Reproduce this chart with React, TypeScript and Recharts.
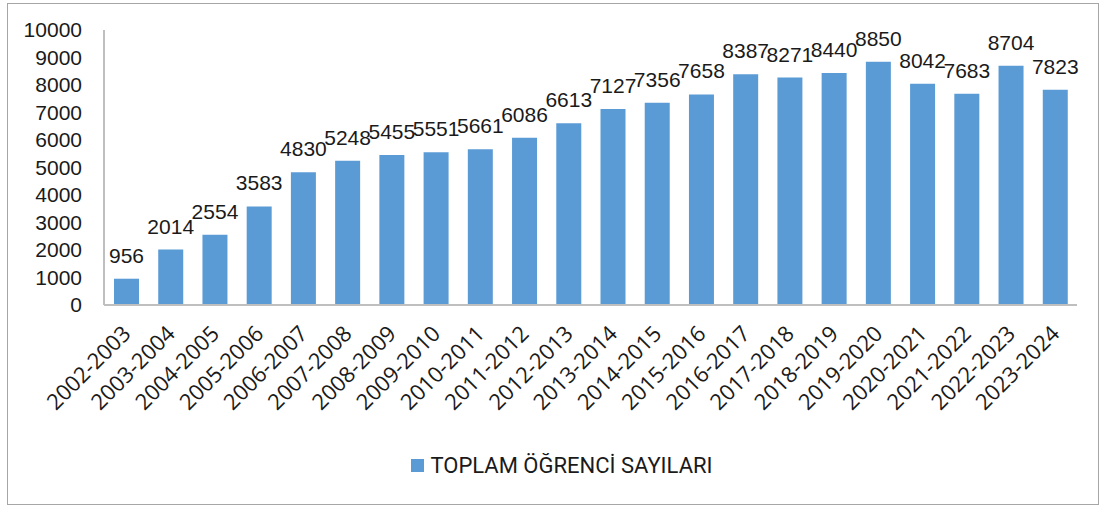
import React from "react";
import { BarChart, Bar, XAxis, YAxis, LabelList } from "recharts";

const donemler = [
  "2002-2003", "2003-2004", "2004-2005", "2005-2006", "2006-2007", "2007-2008",
  "2008-2009", "2009-2010", "2010-2011", "2011-2012", "2012-2013", "2013-2014",
  "2014-2015", "2015-2016", "2016-2017", "2017-2018", "2018-2019", "2019-2020",
  "2020-2021", "2021-2022", "2022-2023", "2023-2024",
];

const ogrenciSayilari = [
  956, 2014, 2554, 3583, 4830, 5248, 5455, 5551, 5661, 6086, 6613, 7127,
  7356, 7658, 8387, 8271, 8440, 8850, 8042, 7683, 8704, 7823,
];

const yTicks = [0, 1000, 2000, 3000, 4000, 5000, 6000, 7000, 8000, 9000, 10000];

const seriesName = "TOPLAM ÖĞRENCİ SAYILARI";

const chartData = donemler.map((d, i) => ({ donem: d, toplam: ogrenciSayilari[i] }));

const tickFont = "'Liberation Sans', Arial, sans-serif";

function XTick(props: any) {
  const { x, y, payload } = props;
  return (
    <g transform={`translate(${x + 6},${y + 22})`}>
      <text
        x={0}
        y={0}
        textAnchor="end"
        transform="rotate(-45)"
        fontSize={22}
        fontFamily="'Open Sans', sans-serif"
        fill="#1a1a1a"
      >
        {payload.value}
      </text>
    </g>
  );
}

export default function App() {
  return (
    <div style={{ position: "absolute", left: 0, top: 0, width: 1104, height: 507, background: "#fff" }}>
      <div
        style={{
          position: "absolute",
          left: 7,
          top: 3,
          width: 1090,
          height: 500,
          border: "1.5px solid #a6a6a6",
        }}
      />
      <div style={{ position: "absolute", left: 0, top: 0 }}>
        <BarChart
          width={1104}
          height={507}
          data={chartData}
          margin={{ top: 30, right: 27, bottom: 0, left: 0 }}
        >
          <XAxis
            dataKey="donem"
            height={202}
            interval={0}
            tickLine={false}
            axisLine={{ stroke: "#bfbfbf", strokeWidth: 2 }}
            tick={<XTick />}
          />
          <YAxis
            width={104}
            domain={[0, 10000]}
            ticks={yTicks}
            interval={0}
            tickLine={false}
            tickSize={0}
            tickMargin={22}
            axisLine={{ stroke: "#bfbfbf", strokeWidth: 2 }}
            tick={{ fontSize: 21, fill: "#1a1a1a", fontFamily: tickFont }}
          />
          <Bar dataKey="toplam" name={seriesName} fill="#5B9BD5" barSize={25} isAnimationActive={false}>
            <LabelList
              dataKey="toplam"
              position="top"
              offset={16}
              fontSize={21}
              fontFamily={tickFont}
              fill="#1a1a1a"
            />
          </Bar>
        </BarChart>
      </div>
      <div
        style={{
          position: "absolute",
          left: 10,
          top: 453,
          width: 1104,
          display: "flex",
          justifyContent: "center",
          alignItems: "center",
        }}
      >
        <span style={{ width: 13, height: 13, background: "#5B9BD5", display: "inline-block", marginRight: 6 }} />
        <span style={{ fontFamily: "Roboto, sans-serif", fontSize: 22, color: "#1a1a1a" }}>{seriesName}</span>
      </div>
    </div>
  );
}
